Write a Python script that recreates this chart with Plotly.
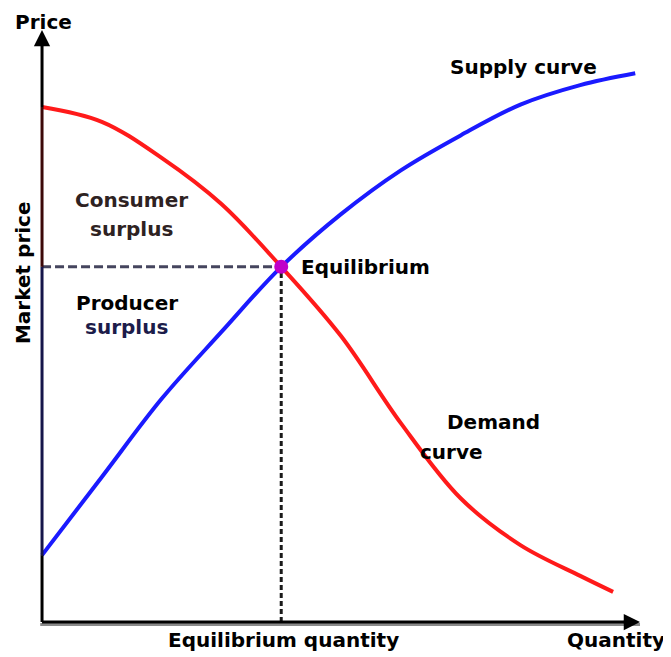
import plotly.graph_objects as go

# values (quantity / price units, axes run 0..10)
demand_q = [0, 1, 2, 3, 4, 5, 6, 7, 8, 9, 9.55]
demand_p = [8.7, 8.45, 7.84, 7.06, 6.0, 4.83, 3.36, 2.09, 1.3, 0.78, 0.51]

supply_q = [0, 1, 2, 3, 4, 5, 6, 7, 8, 9, 9.92]
supply_p = [1.13, 2.45, 3.77, 4.9, 6.0, 6.89, 7.63, 8.22, 8.74, 9.07, 9.27]

eq_q, eq_p = 4.0, 6.0
axis_max = 10

font = dict(family="DejaVu Sans", size=20, color="black")

fig = go.Figure()

# axis shadow + axis lines
fig.add_shape(type="line", x0=-0.03, y0=-0.04, x1=axis_max, y1=-0.04,
              line=dict(color="#8a8a8a", width=3))
fig.add_shape(type="line", x0=0, y0=0, x1=axis_max - 0.1, y1=0,
              line=dict(color="black", width=3))
y_segments = [(0, supply_p[0], "black"),
              (supply_p[0], eq_p, "#16164a"),
              (eq_p, demand_p[0], "#3c0808"),
              (demand_p[0], axis_max - 0.1, "black")]
for y0, y1, c in y_segments:
    fig.add_shape(type="line", x0=0, y0=y0, x1=0, y1=y1, line=dict(color=c, width=3))

# arrow heads
fig.add_annotation(x=0, y=axis_max, ax=0, ay=axis_max - 0.3, xref="x", yref="y",
                   axref="x", ayref="y", showarrow=True, arrowhead=2, arrowsize=1.3,
                   arrowwidth=2.5, arrowcolor="black", text="")
fig.add_annotation(x=axis_max, y=0, ax=axis_max - 0.3, ay=0, xref="x", yref="y",
                   axref="x", ayref="y", showarrow=True, arrowhead=2, arrowsize=1.3,
                   arrowwidth=2.5, arrowcolor="black", text="")

# equilibrium guides
fig.add_trace(go.Scatter(x=[0, eq_q], y=[eq_p, eq_p], mode="lines",
                         line=dict(color="#45455e", width=3, dash="9px,4px"),
                         hoverinfo="skip", showlegend=False))
fig.add_trace(go.Scatter(x=[eq_q, eq_q], y=[0, eq_p], mode="lines",
                         line=dict(color="#1a1a1a", width=3, dash="5px,3px"),
                         hoverinfo="skip", showlegend=False))

# curves
fig.add_trace(go.Scatter(x=demand_q, y=demand_p, mode="lines",
                         line=dict(color="#ff1a1a", width=4, shape="spline"),
                         showlegend=False))
fig.add_trace(go.Scatter(x=supply_q, y=supply_p, mode="lines",
                         line=dict(color="#1a1aff", width=4, shape="spline"),
                         showlegend=False))
fig.add_trace(go.Scatter(x=[eq_q], y=[eq_p], mode="markers",
                         marker=dict(color="#c000c8", size=14), showlegend=False))

# labels
labels = [
    ("Price", 0.03, 10.14, "center", "black"),
    ("Consumer", 1.5, 7.13, "center", "#2e2222"),
    ("surplus", 1.5, 6.64, "center", "#2e2222"),
    ("Producer", 1.42, 5.39, "center", "black"),
    ("surplus", 1.42, 4.98, "center", "#1c1c4a"),
    ("Equilibrium", 4.3, 5.99, "left", "black"),
    ("Supply curve", 8.05, 9.37, "center", "black"),
    ("Demand", 7.55, 3.38, "center", "black"),
    ("curve", 6.85, 2.87, "center", "black"),
    ("Equilibrium quantity", 4.03, -0.3, "center", "black"),
    ("Quantity", 9.6, -0.3, "center", "black"),
]
for txt, x, y, al, c in labels:
    fig.add_annotation(x=x, y=y, xref="x", yref="y", text=f"<b>{txt}</b>",
                       showarrow=False, xanchor=al, yanchor="middle",
                       font=dict(font, color=c))
fig.add_annotation(x=-0.33, y=5.9, xref="x", yref="y", text="<b>Market price</b>",
                   showarrow=False, textangle=-90, font=font)

# page body adds an 8px offset, so the ranges are set for that
fig.update_layout(
    width=671, height=657,
    margin=dict(l=0, r=0, t=0, b=0),
    paper_bgcolor="white", plot_bgcolor="white",
    xaxis=dict(range=[-0.569, 10.652], visible=False, fixedrange=True),
    yaxis=dict(range=[-0.726, 10.372], visible=False, fixedrange=True),
)

fig.write_html("out.html")
